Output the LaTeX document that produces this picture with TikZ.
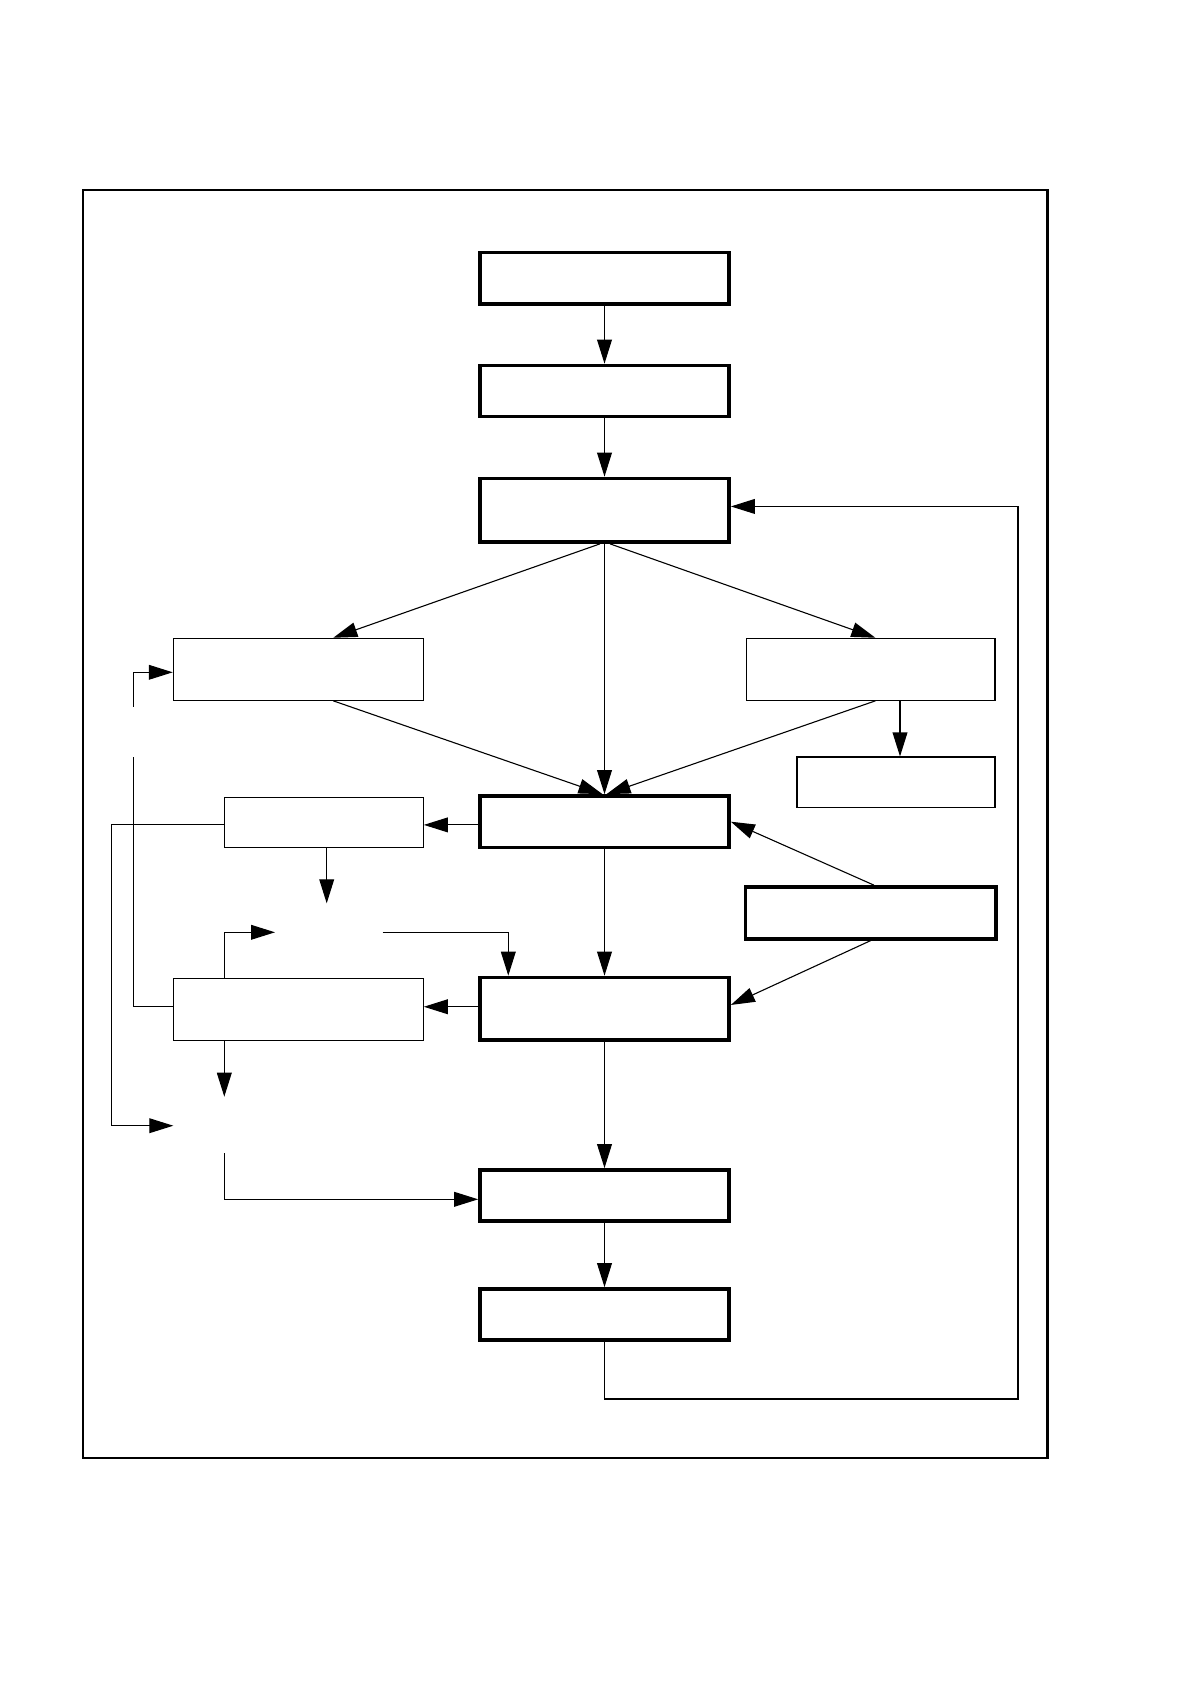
\documentclass[tikz,border=0pt]{standalone}
\usetikzlibrary{arrows.meta,calc}
\begin{document}
\begin{tikzpicture}[x=0.5pt,y=-0.5pt,
  thickbox/.style={draw, line width=1.85pt, inner sep=0pt},
  thinbox/.style={draw, line width=0.55pt, inner sep=0pt},
  framebox/.style={draw, line width=1.15pt, inner sep=0pt},
  conn/.style={line width=0.55pt},
  arr/.style={conn, -{Triangle[length=12pt,width=7.4pt]}}]
\useasboundingbox (0,0) rectangle (1188,1684);

% frame
\node[framebox, minimum width=482.4pt, minimum height=634pt] (frame) at (565.1,824) {};

% main column
\node[thickbox, minimum width=124.5pt, minimum height=25.75pt] (T1) at (604.5,278.25) {};
\node[thickbox, minimum width=124.5pt, minimum height=25.5pt]  (T2) at (604.5,391) {};
\node[thickbox, minimum width=124.5pt, minimum height=31.75pt] (T3) at (604.5,510.25) {};
\node[thickbox, minimum width=124.5pt, minimum height=25.7pt]  (M4) at (604.5,821.7) {};
\node[thickbox, minimum width=124.5pt, minimum height=31.25pt] (M5) at (604.5,1008.75) {};
\node[thickbox, minimum width=124.5pt, minimum height=25.5pt]  (M6) at (604.5,1195.5) {};
\node[thickbox, minimum width=124.5pt, minimum height=25.5pt]  (M7) at (604.5,1314.5) {};

% side boxes
\node[thinbox, minimum width=125pt, minimum height=31pt]    (A)  at (298.3,669.3) {};
\node[thinbox, minimum width=124.25pt, minimum height=31pt] (B)  at (870.75,669.3) {};
\node[thinbox, minimum width=99pt, minimum height=25.3pt]   (C)  at (896,782.3) {};
\node[thinbox, minimum width=99.5pt, minimum height=25pt]   (L2) at (323.8,822.3) {};
\node[thickbox, minimum width=125.25pt, minimum height=25.85pt] (D) at (870.75,912.85) {};
\node[thinbox, minimum width=125pt, minimum height=31pt]    (L3) at (298.3,1009.3) {};

% free ends
\coordinate (pAn) at (133.3,706.7);
\coordinate (pAs) at (133.3,756.7);
\coordinate (pCn) at (326.7,903.3);
\coordinate (pCw) at (275,932.3);
\coordinate (pCe) at (382.7,932.3);
\coordinate (pEn) at (224.3,1096.7);
\coordinate (pEw) at (173.3,1125.7);
\coordinate (pEs) at (224.3,1153.3);
\coordinate (cornerE) at (111.7,1125.7);
\coordinate (loopc) at (1018,1399);

% connectors
\draw[arr] (T1.south) -- (T2.north);
\draw[arr] (T2.south) -- (T3.north);
\draw[arr] ([xshift=-2.25pt]T3.south) -- ([xshift=17.5pt]A.north);
\draw[arr] (T3.south) -- (M4.north);
\draw[arr] ([xshift=2.75pt]T3.south) -- ([xshift=2.3pt]B.north);
\draw[arr] ([xshift=17.5pt]A.south) -- ([xshift=-1pt]M4.north);
\draw[arr] ([xshift=2.3pt]B.south) -- ([xshift=1pt]M4.north);
\draw[arr] ([xshift=2pt]C.north |- B.south) -- ([xshift=2pt]C.north);
\draw[arr] ([xshift=1.6pt]D.north) -- (M4.east);
\draw[arr] (D.south) -- ([yshift=1.9pt]M5.east);
\draw[arr] (M4.south) -- (M5.north);
\draw[arr] ([yshift=-1.6pt]M4.west) -- ([yshift=-1.6pt]M4.west -| L2.east);
\draw[arr] ([yshift=1pt]M5.west) -- ([yshift=1pt]M5.west -| L3.east);
\draw[arr] (M5.south) -- (M6.north);
\draw[arr] (M6.south) -- (M7.north);
\draw[arr] (M7.south) |- (loopc) |- ([yshift=1.9pt]T3.east);

% left side
\draw[conn] ([yshift=1pt]M5.west -| L3.west) -| (pAs);
\draw[arr] (pAn) |- ([yshift=-1.5pt]A.west);
\draw[arr] ([yshift=-1.6pt]M4.west -| L2.west) -| (cornerE) -- (pEw);
\draw[arr] (pCn |- L2.south) -- (pCn);
\draw[arr] (L3.north -| pEn) |- (pCw);
\draw[arr] (pCe) -| ([xshift=-48.1pt]M5.north);
\draw[arr] (pEn |- L3.south) -- (pEn);
\draw[arr] (pEs) |- ([yshift=-1.9pt]M6.west);
\end{tikzpicture}
\end{document}
